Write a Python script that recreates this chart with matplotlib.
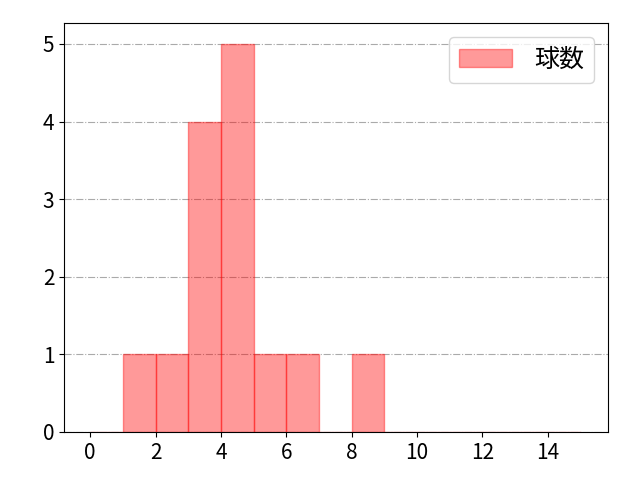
import matplotlib
matplotlib.use("Agg")
import matplotlib.pyplot as plt

plt.rcParams['font.family'] = ['Noto Sans CJK JP', 'DejaVu Sans']

# 1試合あたりの球数（ヒストグラム用の元データ）
kyusu = [1, 2, 3, 3, 3, 3, 4, 4, 4, 4, 4, 5, 6, 8]
bins = list(range(0, 16))

fig, ax = plt.subplots(figsize=(6.4, 4.8), dpi=100)
fig.subplots_adjust(left=0.1, right=0.95, top=0.952, bottom=0.1)

ax.hist(kyusu, bins=bins, color='red', alpha=0.4, edgecolor='red', label='球数')

ax.grid(axis='y', linestyle='-.', color='#aaaaaa')
ax.set_axisbelow(True)
ax.set_xticks([0, 2, 4, 6, 8, 10, 12, 14])
ax.set_yticks([0, 1, 2, 3, 4, 5])
ax.set_xlim(-0.8, 15.84)
ax.set_ylim(0, 5.27)
ax.tick_params(labelsize=15)
ax.legend(loc='upper right', fontsize=18, handlelength=2.1,
          handleheight=0.75, handletextpad=0.9, borderaxespad=0.55)

fig.savefig('out.png', dpi=100)
